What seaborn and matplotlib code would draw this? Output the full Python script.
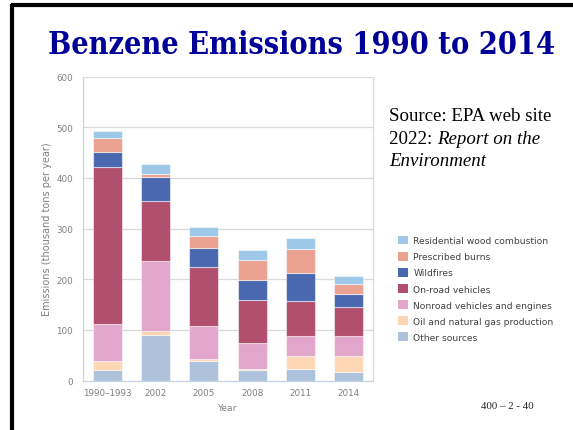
import matplotlib
matplotlib.use("Agg")
import matplotlib.pyplot as plt
import seaborn as sns
import pandas as pd
from matplotlib.patches import Patch
from matplotlib.lines import Line2D

years = ["1990–1993", "2002", "2005", "2008", "2011", "2014"]
sources = ["Residential wood combustion", "Prescribed burns", "Wildfires",
           "On-road vehicles", "Nonroad vehicles and engines",
           "Oil and natural gas production", "Other sources"]
residential = [14, 19.5, 19, 20.5, 21, 17]
prescribed = [27, 7, 22.5, 39, 47.5, 18.5]
wildfires = [30, 46, 37, 40, 55.5, 26]
onroad = [310, 118, 116.5, 85, 68, 57.5]
nonroad = [72.5, 138.5, 65.5, 50, 41, 39]
oilgas = [18.5, 7.5, 5, 3, 24, 31]
other = [21, 91, 38, 21, 24, 18]
colors = ["#9dc8e8", "#eba291", "#4a68b0", "#b0506e", "#e3a6cb", "#fdd7b3", "#aec2dc"]
yticks = [0, 100, 200, 300, 400, 500, 600]

series = [residential, prescribed, wildfires, onroad, nonroad, oilgas, other]
rows = []
for s, vals in zip(sources, series):
    for y, v in zip(years, vals):
        rows.append({"Year": y, "Source": s, "value": v})
df = pd.DataFrame(rows)

sns.set_style("white")
fig = plt.figure(figsize=(5.73, 4.31), dpi=100)
ax = fig.add_axes([83 / 573, 1 - 381.7 / 431, (373 - 83) / 573, (381.7 - 77.5) / 431])

sns.histplot(data=df, x="Year", weights="value", hue="Source", hue_order=sources,
             palette=colors, multiple="stack", discrete=True, shrink=0.6,
             edgecolor=(1, 1, 1, 0.5), linewidth=0.8, alpha=1, legend=False, ax=ax)

grey = "#7f7f7f"
ax.set_ylim(0, 600)
ax.set_xlim(-0.5, 5.5)
ax.set_yticks(yticks)
ax.set_yticklabels([str(t) for t in yticks], fontsize=6.3, color=grey)
ax.yaxis.grid(True, color="#d9d9d9", linewidth=0.9)
ax.set_axisbelow(True)
ax.set_xticks(range(len(years)))
ax.set_xticklabels(years, fontsize=6.3, color=grey)
ax.set_xticks([i - 0.5 for i in range(len(years))], minor=True)
ax.tick_params(axis="x", which="major", length=0, pad=5.5)
ax.tick_params(axis="x", which="minor", length=5, color="#c5d3e6", width=0.9, direction="out")
ax.tick_params(axis="y", length=0, pad=7)
for side in ["left", "bottom"]:
    ax.spines[side].set_color("#c5d3e6")
    ax.spines[side].set_linewidth(0.9)
ax.spines["right"].set_color("#d9d9d9")
ax.spines["right"].set_linewidth(0.9)
ax.spines["top"].set_visible(False)
ax.set_xlabel("Year", fontsize=6.6, color=grey, labelpad=4)
ax.set_ylabel("Emissions (thousand tons per year)", fontsize=7, color=grey, labelpad=3)

handles = [Patch(facecolor=c, edgecolor="none") for c in colors]
fig.legend(handles, sources, loc="upper left", bbox_to_anchor=(394 / 573, 1 - 233 / 431),
           frameon=False, fontsize=6.6, labelcolor="#404040", handlelength=1.1,
           handleheight=1.1, handletextpad=0.6, labelspacing=0.72, borderaxespad=0)

fig.text(302 / 573, 1 - 54.3 / 431, "Benzene Emissions 1990 to 2014", ha="center",
         va="baseline", fontsize=22, fontweight="bold", fontstretch="condensed",
         color="#000099", family="DejaVu Serif")

serif = "Liberation Serif"
fs = 13.6
fig.text(389 / 573, 1 - 121 / 431, "Source: EPA web site", fontsize=fs, family=serif,
         va="baseline", color="black")
t1 = fig.text(389 / 573, 1 - 143.5 / 431, "2022: ", fontsize=fs, family=serif,
              va="baseline", color="black")
fig.canvas.draw()
bb = t1.get_window_extent()
fig.text(bb.x1 / fig.bbox.width, 1 - 143.5 / 431, "Report on the", fontsize=fs,
         family=serif, style="italic", va="baseline", color="black")
fig.text(389 / 573, 1 - 166 / 431, "Environment", fontsize=fs, family=serif,
         style="italic", va="baseline", color="black")
fig.text(507 / 573, 1 - 409 / 431, "400 – 2 - 40", fontsize=7.8, family=serif,
         ha="center", va="baseline", color="#222222")

fig.add_artist(Line2D([12 / 573, 12 / 573], [0, 1 - 5 / 431], color="black", linewidth=3,
                      transform=fig.transFigure, solid_capstyle="butt"))
fig.add_artist(Line2D([10.5 / 573, 1], [1 - 5.5 / 431, 1 - 5.5 / 431], color="black",
                      linewidth=3, transform=fig.transFigure, solid_capstyle="butt"))

fig.savefig("out.png", dpi=100)
